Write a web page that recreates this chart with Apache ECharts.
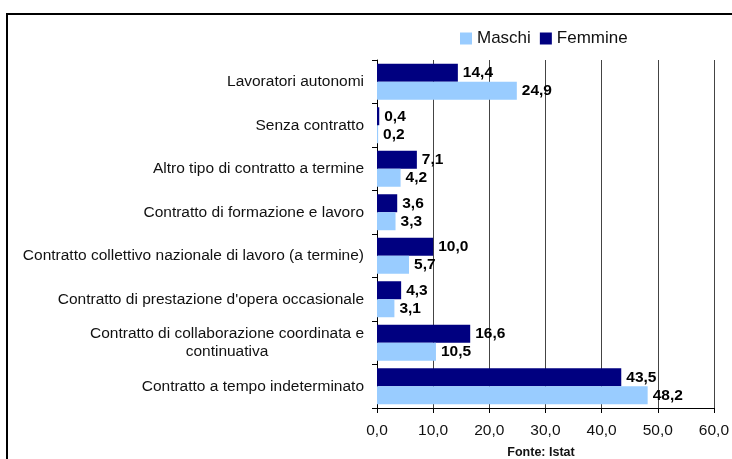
<!DOCTYPE html>
<html>
<head>
<meta charset="utf-8">
<script src="https://cdn.jsdelivr.net/npm/echarts@6/dist/echarts.min.js"></script>
<style>
  html, body { margin: 0; padding: 0; background: #fff; }
  #chart { width: 732px; height: 459px; }
</style>
</head>
<body>
<div id="chart"></div>
<script>
// categorie dal basso verso l'alto
var categorie = [
  "Contratto a tempo indeterminato",
  "Contratto di collaborazione coordinata e\ncontinuativa",
  "Contratto di prestazione d'opera occasionale",
  "Contratto collettivo nazionale di lavoro (a termine)",
  "Contratto di formazione e lavoro",
  "Altro tipo di contratto a termine",
  "Senza contratto",
  "Lavoratori autonomi"
];
var maschi = [48.2, 10.5, 3.1, 5.7, 3.3, 4.2, 0.2, 24.9];
var femmine = [43.5, 16.6, 4.3, 10.0, 3.6, 7.1, 0.4, 14.4];

function virgola(v) {
  return Number(v).toFixed(1).replace(".", ",");
}

var font = "Liberation Sans, Arial, sans-serif";
var etichetta = {
  show: true,
  position: "right",
  distance: 5,
  color: "#000",
  fontWeight: "bold",
  fontSize: 15.5,
  fontFamily: font,
  formatter: function (p) { return virgola(p.value); }
};

var myChart = echarts.init(document.getElementById("chart"));
myChart.setOption({
  animation: false,
  textStyle: { fontFamily: font },
  legend: {
    data: ["Maschi", "Femmine"],
    left: 455,
    top: 25,
    itemWidth: 12,
    itemHeight: 12,
    itemGap: 9,
    icon: "rect",
    textStyle: { fontSize: 17, color: "#111", fontFamily: font }
  },
  grid: { left: 377, right: 17, top: 60, bottom: 51 },
  xAxis: {
    type: "value",
    min: 0,
    max: 60,
    interval: 10,
    axisLine: { show: true, lineStyle: { color: "#000" } },
    axisTick: { show: true, length: 5, lineStyle: { color: "#000" } },
    axisLabel: {
      color: "#111",
      fontSize: 15.5,
      margin: 15,
      formatter: virgola
    },
    splitLine: { show: true, lineStyle: { color: "#444", width: 1 } }
  },
  yAxis: {
    type: "category",
    data: categorie,
    axisLine: { show: true, lineStyle: { color: "#000" } },
    axisTick: { show: true, length: 5, lineStyle: { color: "#000" } },
    axisLabel: {
      color: "#111",
      fontSize: 15.5,
      margin: 13,
      formatter: function (v) { return "{c|" + v + "}"; },
      rich: { c: { align: "center", fontSize: 15.5, color: "#111", fontFamily: font, lineHeight: 18 } }
    }
  },
  series: [
    {
      name: "Femmine",
      type: "bar",
      data: femmine,
      barWidth: 18,
      barGap: "0%",
      itemStyle: { color: "#000080" },
      label: etichetta
    },
    {
      name: "Maschi",
      type: "bar",
      data: maschi,
      barWidth: 18,
      barGap: "0%",
      itemStyle: { color: "#99CCFF" },
      label: etichetta
    }
  ],
  graphic: [
    {
      type: "rect",
      shape: { x: 7, y: 14, width: 800, height: 500 },
      style: { fill: "none", stroke: "#000", lineWidth: 2 },
      silent: true
    },
    {
      type: "text",
      x: 541,
      y: 453,
      style: {
        text: "Fonte: Istat",
        font: "bold 12.5px " + font,
        fill: "#111",
        textAlign: "center",
        textVerticalAlign: "middle"
      }
    }
  ]
});
</script>
</body>
</html>
